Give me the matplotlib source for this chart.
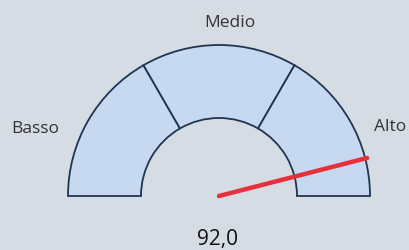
import numpy as np
import matplotlib.pyplot as plt
from matplotlib.patches import Wedge

# dati
fasce = ["Basso", "Medio", "Alto"]
limiti = [0, 100/3, 200/3, 100]
valore = 92.0
val_min, val_max = 0, 100

# posizioni etichette (pixel, origine in basso a sinistra)
pos_etichette = [(35, 121), (230, 227), (390, 123)]

sfondo = "#d6dce4"
riempimento = "#c6d9f0"
bordo = "#1f3552"

fig = plt.figure(figsize=(4.09, 2.5), dpi=100, facecolor=sfondo)
ax = fig.add_axes([0, 0, 1, 1])
ax.set_xlim(0, 409)
ax.set_ylim(0, 250)
ax.set_facecolor(sfondo)
ax.axis("off")

cx, cy = 219, 54
r_est, r_int = 151, 78

def angolo(v):
    return 180 - (v - val_min) / (val_max - val_min) * 180

for i, nome in enumerate(fasce):
    a1 = angolo(limiti[i + 1])
    a2 = angolo(limiti[i])
    w = Wedge((cx, cy), r_est, a1, a2, width=r_est - r_int,
              facecolor=riempimento, edgecolor=bordo, linewidth=1.3)
    ax.add_patch(w)
    x, y = pos_etichette[i]
    ax.text(x, y, nome, ha="center", va="center", fontsize=12.5,
            family="Open Sans", color="#333333")

# lancetta
a = np.radians(angolo(valore))
ax.plot([cx, cx + 153 * np.cos(a)], [cy, cy + 153 * np.sin(a)],
        color="#e8303a", linewidth=3.2, solid_capstyle="round", zorder=5)

ax.text(217, 11, f"{valore:.1f}".replace(".", ","), ha="center", va="center",
        fontsize=15, family="Open Sans", color="#111111")

fig.savefig("out.png", dpi=100, facecolor=sfondo)
